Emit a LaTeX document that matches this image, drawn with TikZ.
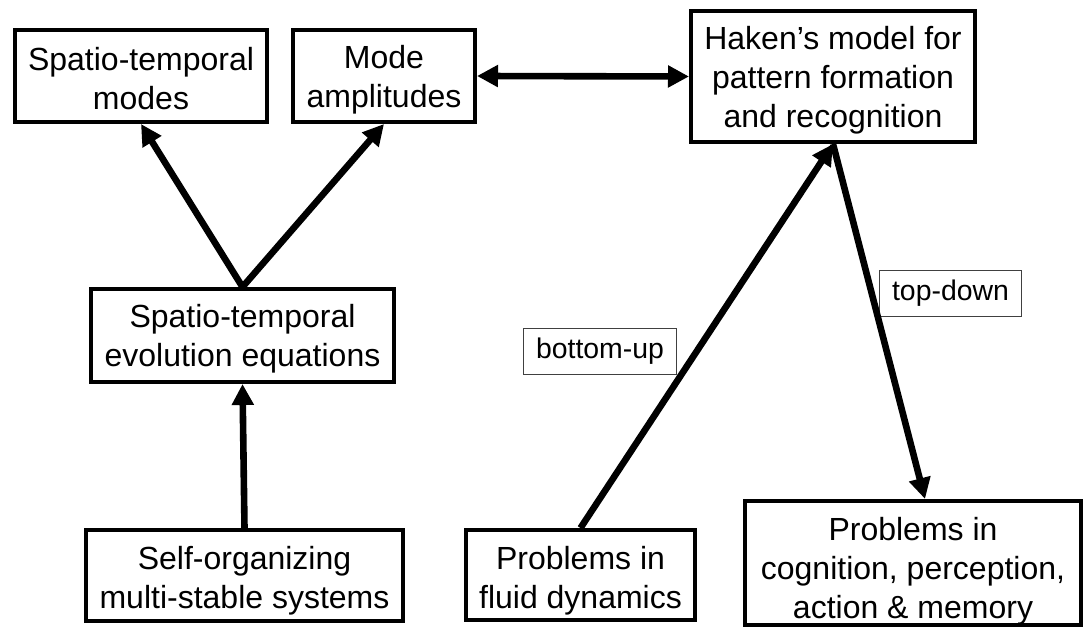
\documentclass[tikz,border=0pt]{standalone}
\usepackage{fontspec}
\setmainfont{Liberation Sans}
\usetikzlibrary{arrows.meta,calc}
\newcommand\tstrut[1]{\rule{0pt}{#1}}
\begin{document}
\begin{tikzpicture}[x=0.5pt,y=-0.5pt,
  box/.style={draw=black, line width=2pt, align=center, inner sep=0pt, font=\fontsize{16}{19.5}\selectfont},
  lbl/.style={draw=black!75, line width=0.6pt, inner sep=0pt, font=\fontsize{14.2}{17}\selectfont},
  arr/.style={line width=3.3pt, -{Triangle[length=10.5pt,width=10.5pt]}},
  darr/.style={line width=3.3pt, {Triangle[length=10.5pt,width=10.5pt]}-{Triangle[length=10.5pt,width=10.5pt]}}]
\useasboundingbox (0,0) rectangle (1092,630);
\node[box, minimum width=126pt, minimum height=46pt] (stm) at (141,76) {\tstrut{14.5pt}Spatio-temporal\\modes};
\node[box, minimum width=91pt, minimum height=46pt] (ma) at (384,76) {\tstrut{15.5pt}Mode\\amplitudes};
\node[box, minimum width=142pt, minimum height=65.5pt] (hak) at (833,76.5) {\tstrut{15.5pt}Haken’s model for\\pattern formation\\and recognition};
\node[box, minimum width=151.5pt, minimum height=46.5pt] (eve) at (242.5,335.5) {\tstrut{15pt}Spatio-temporal\\evolution equations};
\node[box, minimum width=158.5pt, minimum height=45.5pt] (som) at (244.5,575.5) {\tstrut{16.5pt}Self-organizing\\multi-stable systems};
\node[box, minimum width=114.5pt, minimum height=45pt] (fd) at (580.5,575) {\tstrut{17pt}Problems in\\fluid dynamics};
\node[box, minimum width=168pt, minimum height=62pt] (cog) at (913,563) {\tstrut{19.5pt}Problems in\\cognition, perception,\\action \& memory};
\node[lbl, minimum width=76.5pt, minimum height=23pt] (bu) at (600,351.5) {bottom-up};
\node[lbl, minimum width=71pt, minimum height=23pt] (td) at (950.5,293.5) {top-down};
\coordinate (cogin) at ($(cog.north)+(12,0)$);
\draw[darr] (ma.east) -- (hak.west);
\draw[arr] (eve.north) -- (stm.south);
\draw[arr] (eve.north) -- (ma.south);
\draw[arr] (som.north) -- (eve.south);
\draw[arr] (fd.north) -- (hak.south);
\draw[arr] (hak.south) -- (cogin);
\end{tikzpicture}
\end{document}
